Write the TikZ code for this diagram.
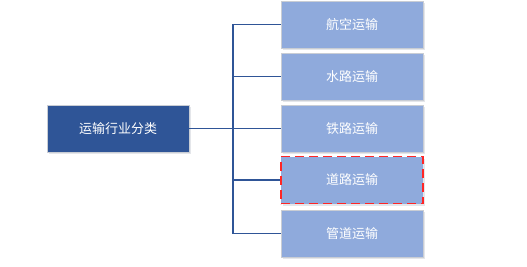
\documentclass[tikz,border=0pt]{standalone}
\usepackage{fontspec}
\newfontfamily\cjk{Noto Sans CJK SC}
\definecolor{darkbox}{HTML}{2F5597}
\definecolor{lightbox}{HTML}{8FAADC}
\definecolor{edgegray}{HTML}{C9CDD4}
\definecolor{linkblue}{HTML}{2F5597}
\definecolor{shadowgray}{HTML}{E4E6EA}
\tikzset{
  rootbox/.style={draw=edgegray, line width=0.8pt, fill=darkbox, text=white, minimum width=142pt, minimum height=47pt, inner sep=0pt, font=\cjk\fontsize{13}{15}\selectfont},
  leafbox/.style={draw=edgegray, line width=0.8pt, fill=lightbox, text=white, minimum width=142pt, minimum height=47pt, inner sep=0pt, font=\cjk\fontsize{13}{15}\selectfont},
  shadowbox/.style={fill=shadowgray, minimum width=142pt, minimum height=47pt, inner sep=0pt},
  link/.style={draw=linkblue, line width=1.3pt},
  hilite/.style={draw=red!85!white, dash pattern=on 9pt off 5pt, line width=1.1pt}
}
\begin{document}
\begin{tikzpicture}[x=1pt,y=1pt]
\useasboundingbox (0,0) rectangle (527,266);
% shadows
\foreach \yy in {24.5,76.5,128.5,180,233.5}{
  \node[shadowbox] at (353.5,266-\yy-2) {};
}
\node[shadowbox] at (119.5,266-128.5-2) {};
% nodes
\node[rootbox] (root) at (118,266-128.5) {运输行业分类};
\node[leafbox] (a) at (352,266-24.5) {航空运输};
\node[leafbox] (b) at (352,266-76.5) {水路运输};
\node[leafbox] (c) at (352,266-128.5) {铁路运输};
\node[leafbox, hilite] (d) at (352,266-180) {道路运输};
\node[leafbox] (e) at (352,266-233.5) {管道运输};
\coordinate (j) at (233,266-128.5);
\draw[link] (root.east) -- (c.west);
\draw[link] (a.west) -| (j) |- (e.west);
\draw[link] (j |- b.west) -- (b.west);
\draw[link] (j |- d.west) -- (d.west);
\end{tikzpicture}
\end{document}
